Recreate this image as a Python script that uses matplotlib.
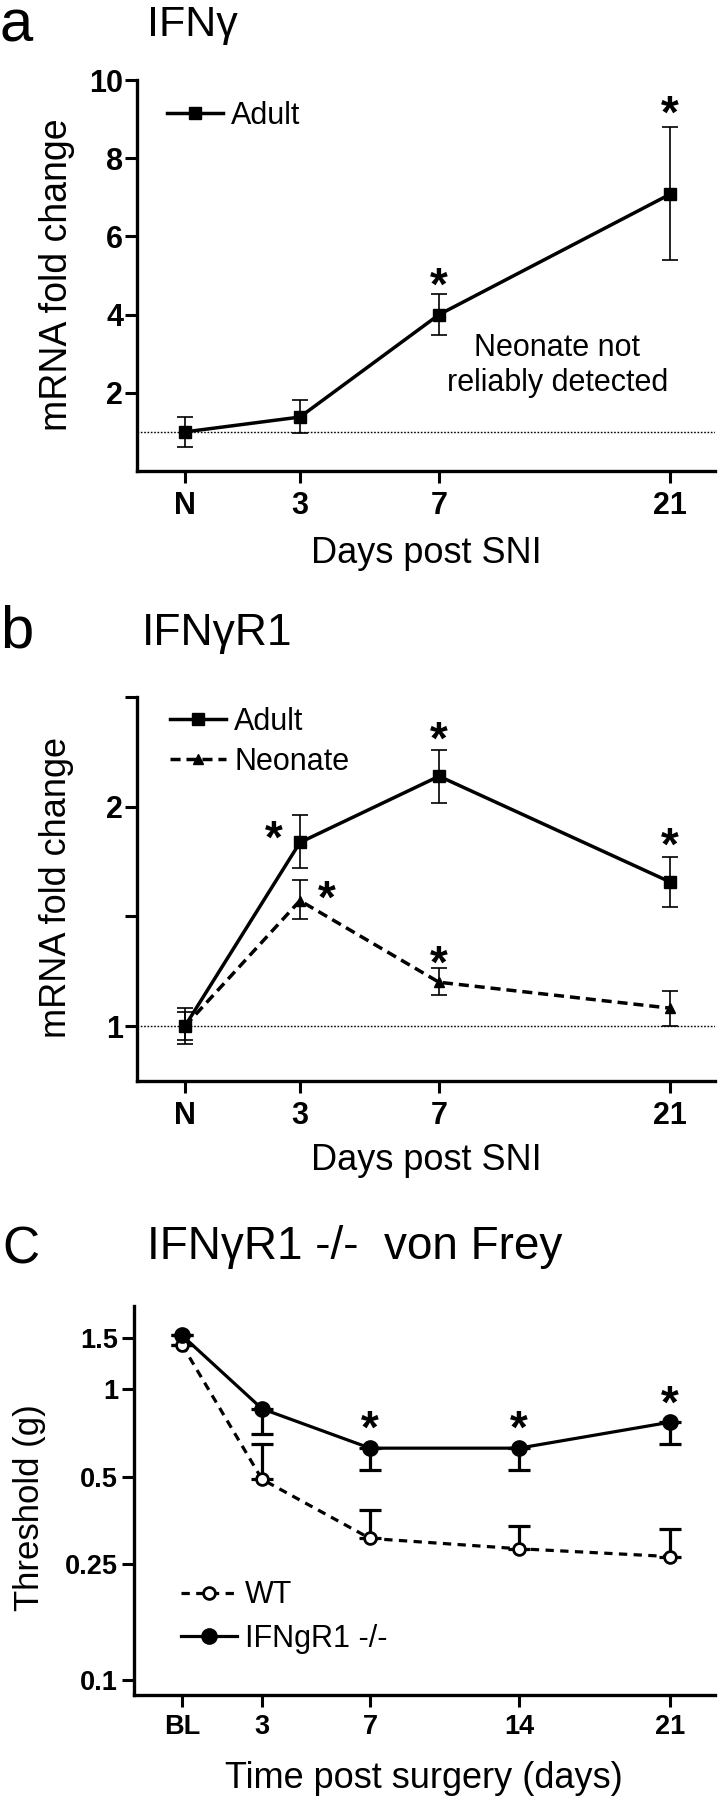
import matplotlib
matplotlib.use("Agg")
import matplotlib.pyplot as plt
import numpy as np

plt.rcParams['font.family'] = ['Liberation Sans', 'DejaVu Sans']

W, H = 719, 1800

# ---- panel a: IFNγ ----
day_labels = ['N', '3', '7', '21']
day_pos = [0, 1, 2.21, 4.22]
ifng_adult = [1.0, 1.38, 4.0, 7.08]
ifng_lo = [0.61, 0.98, 3.47, 5.39]
ifng_hi = [1.38, 1.81, 4.52, 8.81]
ifng_stars = [(2.21, 5.1), (4.22, 9.5)]

# ---- panel b: IFNγR1 ----
r1_adult = [1.0, 1.837, 2.139, 1.657]
r1_adult_lo = [0.918, 1.72, 2.016, 1.542]
r1_adult_hi = [1.082, 1.96, 2.26, 1.773]
r1_neo = [1.0, 1.572, 1.2, 1.082]
r1_neo_lo = [0.935, 1.49, 1.142, 1.0]
r1_neo_hi = [1.065, 1.667, 1.265, 1.16]
r1_stars = [(0.77, 1.92), (2.21, 2.37), (4.22, 1.89), (1.23, 1.645), (2.21, 1.35)]

# ---- panel c: von Frey ----
vf_labels = ['BL', '3', '7', '14', '21']
vf_pos = [0, 1, 2.35, 4.21, 6.1]
ko = [1.53, 0.856, 0.627, 0.627, 0.77]
ko_lo = [1.53, 0.703, 0.526, 0.526, 0.65]
wt = [1.42, 0.49, 0.307, 0.283, 0.266]
wt_hi = [1.42, 0.65, 0.383, 0.338, 0.33]
vf_stars = [(2.35, 0.818), (4.21, 0.818), (6.1, 1.0)]


def px_rect(l, t, r, b):
    return [l / W, 1 - b / H, (r - l) / W, (b - t) / H]


def fig_text(fig, x, y, s, **kw):
    fig.text(x / W, 1 - y / H, s, **kw)


def style_axis(ax, tick_fs, xpad, ypad, tlen=8.5):
    for side in ('top', 'right'):
        ax.spines[side].set_visible(False)
    for side in ('left', 'bottom'):
        ax.spines[side].set_linewidth(2.4)
    ax.tick_params(axis='both', which='major', direction='out', length=tlen,
                   width=2.2, labelsize=tick_fs)
    ax.tick_params(axis='x', pad=xpad)
    ax.tick_params(axis='y', pad=ypad)
    ax.tick_params(which='minor', length=0)


def add_stars(ax, stars, fs=33):
    for x, y in stars:
        ax.annotate('*', xy=(x, y), xytext=(0, -0.62 * fs), textcoords='offset points',
                    ha='center', va='baseline', fontsize=fs, fontweight='bold')


fig = plt.figure(figsize=(W / 100, H / 100), dpi=100)

# panel a
ax = fig.add_axes(px_rect(137, 80, 715, 471))
ax.axhline(1, color='black', lw=1.0, ls=(0, (1.2, 1.2)), zorder=1)
ax.errorbar(day_pos, ifng_adult,
            yerr=[np.subtract(ifng_adult, ifng_lo), np.subtract(ifng_hi, ifng_adult)],
            fmt='none', ecolor='black', elinewidth=1.2, capsize=6, capthick=1.2)
ax.plot(day_pos, ifng_adult, color='black', lw=2.5, marker='s', ms=8, label='Adult')
ax.set_xlim(-0.417, 4.61)
ax.set_ylim(0, 10)
ax.set_xticks(day_pos, day_labels, fontweight='bold')
ax.set_yticks([2, 4, 6, 8, 10], ['2', '4', '6', '8', '10'], fontweight='bold')
style_axis(ax, 22, 6, 1.5)
add_stars(ax, ifng_stars)
ax.text(3.24, 2.7, 'Neonate not\nreliably detected', ha='center', va='center',
        fontsize=22, linespacing=1.18)
ax.legend(loc='center left', bbox_to_anchor=(0.052, 0.908), borderaxespad=0, borderpad=0,
          frameon=False, handlelength=1.84, handletextpad=0.26, fontsize=22, numpoints=1)
fig_text(fig, 0, 41, 'a', fontsize=43, va='baseline', ha='left')
fig_text(fig, 147, 36, 'IFNγ', fontsize=31, va='baseline', ha='left')
fig_text(fig, 426, 563, 'Days post SNI', fontsize=26, va='baseline', ha='center')
fig_text(fig, 57, 275, 'mRNA fold change', fontsize=27, rotation=90, va='center', ha='center')

# panel b
ax = fig.add_axes(px_rect(137, 697, 715, 1081))
ax.axhline(1, color='black', lw=1.0, ls=(0, (1.2, 1.2)), zorder=1)
ax.errorbar(day_pos, r1_adult,
            yerr=[np.subtract(r1_adult, r1_adult_lo), np.subtract(r1_adult_hi, r1_adult)],
            fmt='none', ecolor='black', elinewidth=1.2, capsize=6, capthick=1.2)
ax.errorbar(day_pos, r1_neo,
            yerr=[np.subtract(r1_neo, r1_neo_lo), np.subtract(r1_neo_hi, r1_neo)],
            fmt='none', ecolor='black', elinewidth=1.2, capsize=6, capthick=1.2)
ax.plot(day_pos, r1_adult, color='black', lw=2.5, marker='s', ms=8, label='Adult')
ax.plot(day_pos, r1_neo, color='black', lw=2.5, ls=(0, (2.9, 1.7)), marker='^', ms=7,
        label='Neonate')
ax.set_xlim(-0.417, 4.61)
ax.set_ylim(0.75, 2.5)
ax.set_xticks(day_pos, day_labels, fontweight='bold')
ax.set_yticks([1, 1.5, 2, 2.5], ['1', '', '2', ''], fontweight='bold')
style_axis(ax, 22, 6, 1.5)
add_stars(ax, r1_stars)
ax.legend(loc='center left', bbox_to_anchor=(0.057, 0.883), borderaxespad=0, borderpad=0,
          frameon=False, handlelength=1.84, handletextpad=0.26, fontsize=22, numpoints=1,
          labelspacing=0.32)
fig_text(fig, 0, 647, 'b', fontsize=43, va='baseline', ha='left')
fig_text(fig, 142, 645, 'IFNγR1', fontsize=32, va='baseline', ha='left')
fig_text(fig, 426, 1170, 'Days post SNI', fontsize=26, va='baseline', ha='center')
fig_text(fig, 57, 887, 'mRNA fold change', fontsize=26, rotation=90, va='center', ha='center')

# panel c
ax = fig.add_axes(px_rect(134, 1306, 715, 1695))
ax.set_yscale('log')
ax.errorbar(vf_pos, ko, yerr=[np.subtract(ko, ko_lo), np.zeros(len(ko))],
            fmt='none', ecolor='black', elinewidth=2.3, capsize=8, capthick=2.3)
ax.errorbar(vf_pos, wt, yerr=[np.zeros(len(wt)), np.subtract(wt_hi, wt)],
            fmt='none', ecolor='black', elinewidth=2.3, capsize=8, capthick=2.3)
ax.plot(vf_pos, wt, color='black', lw=2.3, ls=(0, (2.6, 2.0)), marker='o', ms=8.5,
        mfc='white', mew=2, label='WT')
ax.plot(vf_pos, ko, color='black', lw=2.3, marker='o', ms=11, label='IFNgR1 -/-')
ax.set_xlim(-0.6, 6.66)
ax.set_ylim(0.089, 1.93)
ax.set_xticks(vf_pos, vf_labels, fontweight='bold')
ax.set_yticks([0.1, 0.25, 0.5, 1, 1.5], ['0.1', '0.25', '0.5', '1', '1.5'], fontweight='bold')
ax.yaxis.set_minor_locator(matplotlib.ticker.NullLocator())
style_axis(ax, 19.5, 5.5, 3)
add_stars(ax, vf_stars)
ax.legend(loc='center left', bbox_to_anchor=(0.081, 0.2), borderaxespad=0, borderpad=0,
          frameon=False, handlelength=1.84, handletextpad=0.26, fontsize=22, numpoints=1,
          labelspacing=0.45)
fig_text(fig, 2, 1263, 'C', fontsize=37, va='baseline', ha='left')
fig_text(fig, 147, 1259, 'IFNγR1 -/-  von Frey', fontsize=33, va='baseline', ha='left')
fig_text(fig, 424, 1788, 'Time post surgery (days)', fontsize=26, va='baseline', ha='center')
fig_text(fig, 30, 1508, 'Threshold (g)', fontsize=25, rotation=90, va='center', ha='center')

fig.savefig('out.png', dpi=100)
